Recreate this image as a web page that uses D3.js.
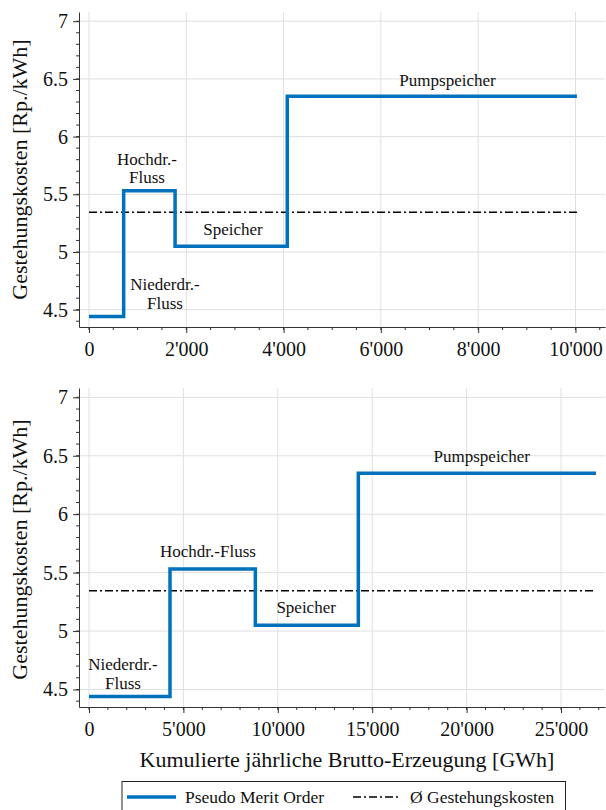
<!DOCTYPE html>
<html>
<head>
<meta charset="utf-8">
<script src="https://cdn.jsdelivr.net/npm/d3@7"></script>
<style>
  body { margin: 0; background: #fff; }
  svg text { font-family: "Liberation Serif", "Times New Roman", serif; fill: #111; }
</style>
</head>
<body>
<div id="chart"></div>
<script>
// step edges (cumulative GWh) and cost levels (Rp./kWh)
const topEdges = [0, 713, 1770, 4076, 10030];
const bottomEdges = [0, 4290, 8810, 14265, 26850];
const costLevels = [4.44, 5.53, 5.05, 6.35];
const avgCost = 5.345;

const yTicks = [4.5, 5, 5.5, 6, 6.5, 7];
const topXTicks = [0, 2000, 4000, 6000, 8000, 10000];
const bottomXTicks = [0, 5000, 10000, 15000, 20000, 25000];

// annotation texts with anchor in data units
const topLabels = [
  { lines: ["Hochdr.-", "Fluss"], x: 1192, y: 5.746 },
  { lines: ["Speicher"], x: 2960, y: 5.149 },
  { lines: ["Niederdr.-", "Fluss"], x: 1562, y: 4.658 },
  { lines: ["Pumpspeicher"], x: 7370, y: 6.438 }
];
const bottomLabels = [
  { lines: ["Niederdr.-", "Fluss"], x: 1800, y: 4.657 },
  { lines: ["Hochdr.-Fluss"], x: 6300, y: 5.631 },
  { lines: ["Speicher"], x: 11500, y: 5.151 },
  { lines: ["Pumpspeicher"], x: 20800, y: 6.445 }
];

const blue = "#0072bd";
const W = 606, H = 810;

const locale = d3.formatLocale({ decimal: ".", thousands: "'", grouping: [3], currency: ["", ""] });
const fmtX = locale.format(",d");
const fmtY = d => d3.format("")(d);

const svg = d3.select("#chart").append("svg")
  .attr("width", W).attr("height", H);

function drawPanel(opt) {
  const x = d3.scaleLinear().domain(opt.xDomain).range([79, 605]);
  const y = d3.scaleLinear().domain([4.35, 7.08]).range([opt.bottom, opt.top]);
  const g = svg.append("g");

  // grid
  g.append("g").selectAll("line").data(yTicks).enter().append("line")
    .attr("x1", 79).attr("x2", 605)
    .attr("y1", d => y(d)).attr("y2", d => y(d))
    .attr("stroke", "#e0e0e0").attr("stroke-width", 1);
  g.append("g").selectAll("line").data(opt.xTicks).enter().append("line")
    .attr("y1", opt.top).attr("y2", opt.bottom)
    .attr("x1", d => x(d)).attr("x2", d => x(d))
    .attr("stroke", "#e0e0e0").attr("stroke-width", 1);

  // minor ticks
  const yMinor = d3.range(4.4, 7.01, 0.1).map(d => +d.toFixed(1));
  g.append("g").selectAll("line").data(yMinor).enter().append("line")
    .attr("x1", 76).attr("x2", 79)
    .attr("y1", d => y(d)).attr("y2", d => y(d))
    .attr("stroke", "#333");
  const xMinor = d3.range(0, opt.xDomain[1], opt.minorStep);
  g.append("g").selectAll("line").data(xMinor).enter().append("line")
    .attr("y1", opt.bottom).attr("y2", opt.bottom + 3)
    .attr("x1", d => x(d)).attr("x2", d => x(d))
    .attr("stroke", "#333");

  // axes
  const ya = g.append("g").attr("transform", "translate(79,0)")
    .call(d3.axisLeft(y).tickValues(yTicks).tickFormat(fmtY).tickSize(6).tickSizeOuter(0).tickPadding(5));
  const xa = g.append("g").attr("transform", `translate(0,${opt.bottom})`)
    .call(d3.axisBottom(x).tickValues(opt.xTicks).tickFormat(fmtX).tickSize(6).tickSizeOuter(0).tickPadding(9));
  [ya, xa].forEach(a => a.attr("font-family", "Liberation Serif, serif")
    .selectAll("text").style("font-size", "20px"));
  g.selectAll(".domain").attr("stroke", "#333");
  g.selectAll(".tick line").attr("stroke", "#333");

  // average line
  g.append("line")
    .attr("x1", x(0)).attr("x2", x(opt.edges[opt.edges.length - 1]))
    .attr("y1", y(avgCost)).attr("y2", y(avgCost))
    .attr("stroke", "#000").attr("stroke-width", 1.5)
    .attr("stroke-dasharray", "8,3,2,3");

  // step line
  const pts = opt.edges.map((e, i) => [e, costLevels[Math.min(i, costLevels.length - 1)]]);
  g.append("path")
    .datum(pts)
    .attr("d", d3.line().x(d => x(d[0])).y(d => y(d[1])).curve(d3.curveStepAfter))
    .attr("fill", "none").attr("stroke", blue).attr("stroke-width", 3.5);

  // labels
  opt.labels.forEach(l => {
    const two = l.lines.length > 1;
    const t = g.append("text")
      .attr("x", x(l.x)).attr("y", y(l.y) - (two ? 1 : 0))
      .attr("text-anchor", "middle").style("font-size", "17px");
    l.lines.forEach((s, i) => {
      t.append("tspan").attr("x", x(l.x)).attr("dy", i === 0 ? 0 : 18.5).text(s);
    });
  });

  // y label
  g.append("text")
    .attr("transform", `translate(27,${(opt.top + opt.bottom) / 2 + opt.yLabelShift}) rotate(-90)`)
    .attr("text-anchor", "middle").style("font-size", "22px")
    .text("Gestehungskosten [Rp./kWh]");
}

drawPanel({ xDomain: [-205, 10607], top: 12, bottom: 327, edges: topEdges,
  xTicks: topXTicks, minorStep: 500, labels: topLabels, yLabelShift: 0 });
drawPanel({ xDomain: [-530, 27330], top: 388, bottom: 707, edges: bottomEdges,
  xTicks: bottomXTicks, minorStep: 1000, labels: bottomLabels, yLabelShift: 2 });

// x label
svg.append("text")
  .attr("x", 347).attr("y", 767)
  .attr("text-anchor", "middle").style("font-size", "22px")
  .text("Kumulierte jährliche Brutto-Erzeugung [GWh]");

// legend
const lg = svg.append("g");
lg.append("rect").attr("x", 122).attr("y", 781.5).attr("width", 443.5).attr("height", 40)
  .attr("fill", "#fff").attr("stroke", "#222").attr("stroke-width", 1);
lg.append("line").attr("x1", 127).attr("x2", 176).attr("y1", 797).attr("y2", 797)
  .attr("stroke", blue).attr("stroke-width", 3.5);
lg.append("text").attr("x", 185).attr("y", 803).style("font-size", "17.5px").text("Pseudo Merit Order");
lg.append("line").attr("x1", 353).attr("x2", 398).attr("y1", 797).attr("y2", 797)
  .attr("stroke", "#000").attr("stroke-width", 1.5).attr("stroke-dasharray", "8,3,2,3");
lg.append("text").attr("x", 410).attr("y", 803).style("font-size", "17.5px").text("Ø Gestehungskosten");
</script>
</body>
</html>
